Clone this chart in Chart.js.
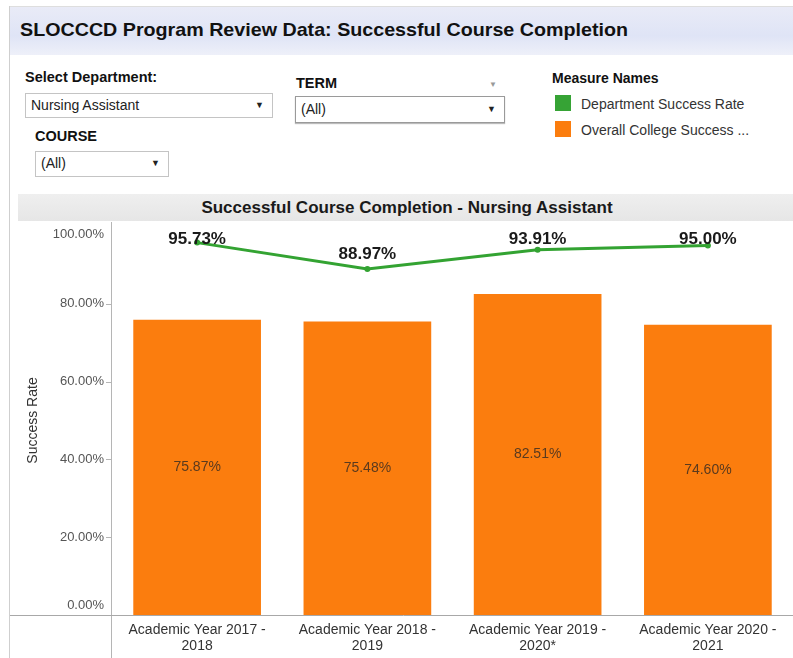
<!DOCTYPE html>
<html>
<head>
<meta charset="utf-8">
<script src="https://cdn.jsdelivr.net/npm/chart.js@4/dist/chart.umd.min.js"></script>
<style>
  html,body{margin:0;padding:0;background:#fff;}
  body{width:793px;height:658px;position:relative;overflow:hidden;font-family:"Liberation Sans",Arial,sans-serif;color:#222;}
  .abs{position:absolute;}
  #frameL{left:9px;top:6px;width:1px;height:652px;background:#cfcfcf;}
  #frameT{left:9px;top:6px;width:784px;height:1px;background:#dedede;}
  #titleBand{left:10px;top:7px;width:783px;height:48px;background:linear-gradient(180deg,#e9ebf7 0%,#dfe4f6 60%,#eef0f9 100%);}
  #title{left:20px;top:19px;font-weight:bold;font-size:19px;color:#111;white-space:nowrap;transform-origin:left top;}
  .lbl{font-weight:bold;font-size:14.5px;color:#111;white-space:nowrap;}
  .dd{background:#fff;border:1px solid #c4c4c4;box-sizing:border-box;font-size:14px;color:#222;padding-left:5px;line-height:22px;white-space:nowrap;}
  .dd .arr{position:absolute;right:8px;top:0;font-size:9px;color:#222;}
  #sub{left:18px;top:194px;width:775px;height:27px;background:linear-gradient(180deg,#efefef 0%,#e6e6e6 100%);}
  #subT{left:18px;top:198px;width:778px;text-align:center;font-weight:bold;font-size:17px;color:#1a1a1a;white-space:nowrap;}
  .sq{width:16px;height:16px;}
  .leg{font-size:14px;color:#333;white-space:nowrap;}
  #cwrap{left:0;top:222px;width:797px;height:436px;}
</style>
</head>
<body>
<div id="frameT" class="abs"></div>
<div id="titleBand" class="abs"></div>
<div id="frameL" class="abs"></div>
<div id="title" class="abs">SLOCCCD Program Review Data: Successful Course Completion</div>

<div class="abs lbl" style="left:25px;top:69px;">Select Department:</div>
<div class="abs dd" style="left:25px;top:93px;width:248px;height:25px;">Nursing Assistant<span class="arr">&#9660;</span></div>

<div class="abs lbl" style="left:296px;top:75px;">TERM</div>
<div class="abs" style="left:489px;top:80px;font-size:8px;color:#999;">&#9660;</div>
<div class="abs dd" style="left:295px;top:96px;width:210px;height:27px;border-color:#9a9a9a;box-shadow:0 1px 1px #bbb;line-height:25px;">(All)<span class="arr">&#9660;</span></div>

<div class="abs lbl" style="left:35px;top:128px;">COURSE</div>
<div class="abs dd" style="left:35px;top:151px;width:134px;height:26px;">(All)<span class="arr">&#9660;</span></div>

<div class="abs lbl" style="left:552px;top:70px;font-size:14px;">Measure Names</div>
<div class="abs sq" style="left:555px;top:95px;background:#36a335;"></div>
<div class="abs leg" style="left:581px;top:96px;">Department Success Rate</div>
<div class="abs sq" style="left:555px;top:121px;background:#fb7d0e;"></div>
<div class="abs leg" style="left:581px;top:122px;">Overall College Success ...</div>

<div id="sub" class="abs"></div>
<div id="subT" class="abs">Successful Course Completion - Nursing Assistant</div>

<div id="cwrap" class="abs"><canvas id="c" width="797" height="436"></canvas></div>

<script>
// ---- data ----
const categories = [
  ["Academic Year 2017 -", "2018"],
  ["Academic Year 2018 -", "2019"],
  ["Academic Year 2019 -", "2020*"],
  ["Academic Year 2020 -", "2021"]
];
const departmentRate = [95.73, 88.97, 93.91, 95.00];
const collegeRate = [75.87, 75.48, 82.51, 74.60];
const yTickValues = [0, 20, 40, 60, 80, 100];
const yAxisTitle = "Success Rate";

const GREEN = "#33a332";
const ORANGE = "#fb7d0e";
const FONT = '"Liberation Sans", Arial, sans-serif';

// fit title width to the reference
(function(){
  const t = document.getElementById('title');
  const w = t.getBoundingClientRect().width;
  t.style.transform = 'scaleX(' + (608 / w) + ')';
})();

const fmt = v => v.toFixed(2) + '%';

const decor = {
  id: 'decor',
  afterDatasetsDraw(chart) {
    const ctx = chart.ctx;
    const a = chart.chartArea;
    ctx.save();
    // bar value labels (middle of bar)
    ctx.font = '14px ' + FONT;
    ctx.fillStyle = '#5a3a1e';
    ctx.textAlign = 'center';
    ctx.textBaseline = 'middle';
    chart.getDatasetMeta(1).data.forEach((el, i) => {
      const mid = (el.y + el.base) / 2;
      ctx.fillText(fmt(collegeRate[i]), el.x, mid);
    });
    // line value labels
    ctx.font = 'bold 17px ' + FONT;
    ctx.fillStyle = '#1a1a1a';
    chart.getDatasetMeta(0).data.forEach((el, i) => {
      const cy = Math.max(el.y - 15, a.top + 13);
      ctx.fillText(fmt(departmentRate[i]), el.x, cy);
    });
    ctx.restore();
  },
  afterDraw(chart) {
    const ctx = chart.ctx;
    const y = chart.scales.y;
    const a = chart.chartArea;
    ctx.save();
    // axis lines
    ctx.strokeStyle = '#b5b5b5';
    ctx.lineWidth = 1;
    ctx.beginPath();
    ctx.moveTo(a.left - 0.5, 0);
    ctx.lineTo(a.left - 0.5, chart.height);
    ctx.stroke();
    ctx.strokeStyle = '#a8a8a8';
    ctx.beginPath();
    ctx.moveTo(10, Math.round(a.bottom) + 0.5);
    ctx.lineTo(chart.width, Math.round(a.bottom) + 0.5);
    ctx.stroke();
    // y ticks and labels
    ctx.font = '13px ' + FONT;
    ctx.fillStyle = '#555';
    ctx.textAlign = 'right';
    ctx.textBaseline = 'middle';
    yTickValues.forEach(v => {
      const py = y.getPixelForValue(v);
      const ly = Math.min(Math.max(py, a.top + 8), a.bottom - 10);
      ctx.fillText(v.toFixed(2) + '%', a.left - 8, ly);
      if (v !== 0 && v !== 100) {
        ctx.strokeStyle = '#b5b5b5';
        ctx.beginPath();
        ctx.moveTo(a.left - 6, Math.round(py) + 0.5);
        ctx.lineTo(a.left - 1, Math.round(py) + 0.5);
        ctx.stroke();
      }
    });
    // y title
    ctx.save();
    ctx.translate(33, (a.top + a.bottom) / 2);
    ctx.rotate(-Math.PI / 2);
    ctx.textAlign = 'center';
    ctx.font = '14px ' + FONT;
    ctx.fillStyle = '#333';
    ctx.fillText(yAxisTitle, 0, 0);
    ctx.restore();
    ctx.restore();
  }
};

new Chart(document.getElementById('c'), {
  type: 'bar',
  data: {
    labels: categories,
    datasets: [
      {
        type: 'line',
        label: 'Department Success Rate',
        data: departmentRate,
        borderColor: GREEN,
        backgroundColor: GREEN,
        borderWidth: 3,
        pointRadius: 3,
        pointBackgroundColor: GREEN,
        pointBorderWidth: 0,
        tension: 0,
        order: 0
      },
      {
        type: 'bar',
        label: 'Overall College Success Rate',
        data: collegeRate,
        backgroundColor: ORANGE,
        borderWidth: 0,
        categoryPercentage: 1.0,
        barPercentage: 0.75,
        order: 1
      }
    ]
  },
  options: {
    responsive: false,
    animation: false,
    events: [],
    layout: { padding: { top: 1, left: 0, right: 0, bottom: 0 } },
    plugins: { legend: { display: false }, tooltip: { enabled: false } },
    scales: {
      x: {
        type: 'category',
        offset: true,
        grid: { display: false, drawTicks: false },
        border: { display: false },
        ticks: {
          color: '#333',
          font: { family: FONT, size: 14, lineHeight: 1.15 },
          padding: 7,
          maxRotation: 0,
          autoSkip: false
        },
        afterFit(s) { s.height = 43; }
      },
      y: {
        min: 0,
        max: 100,
        grid: { display: false },
        border: { display: false },
        ticks: { display: false },
        afterFit(s) { s.width = 112; }
      }
    }
  },
  plugins: [decor]
});
</script>
</body>
</html>
